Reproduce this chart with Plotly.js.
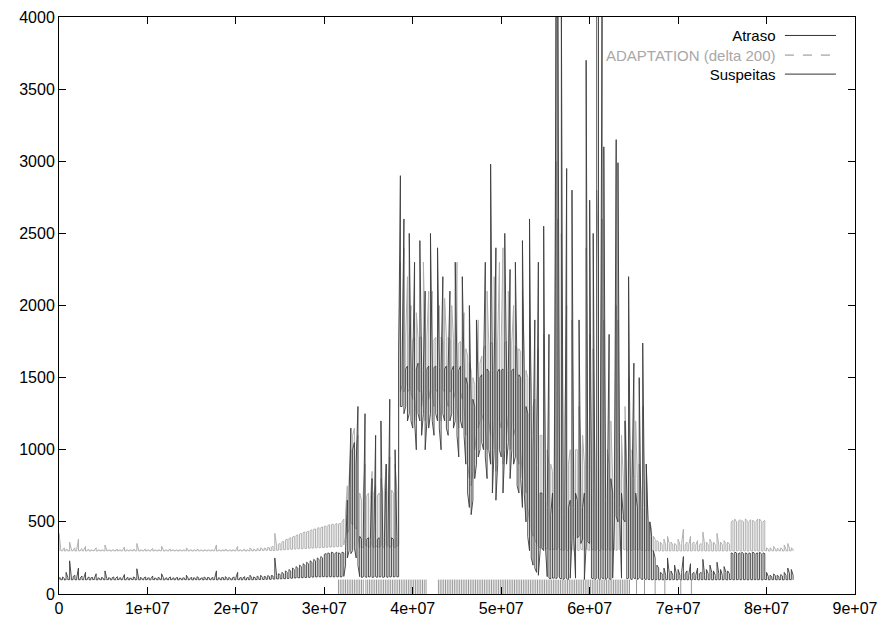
<!DOCTYPE html>
<html>
<head>
<meta charset="utf-8">
<script src="https://cdn.plot.ly/plotly-3.0.1.min.js"></script>
<style>html,body{margin:0;padding:0;background:#fff}#chart{width:885px;height:626px}</style>
</head>
<body>
<div id="chart"></div>
<script>
// Width of one sampling bin along x; each bin keeps the min and max reached inside it
const binWidth = 200000;

// Atraso: per-bin maximum
const atrasoMax = [
  112,110,118,108,150,115,230,112,120,130,
  110,180,112,125,108,150,110,118,112,115,
  110,140,112,108,115,110,160,108,112,110,
  112,118,108,120,110,112,108,135,108,115,
  110,108,118,112,175,110,115,108,112,118,
  110,112,108,125,110,108,115,110,140,112,
  108,112,110,118,108,112,110,115,110,108,
  112,110,130,110,108,115,112,110,120,112,
  108,112,118,110,115,112,108,115,110,160,
  112,110,115,112,120,110,115,108,112,118,
  112,150,110,115,112,120,110,115,130,112,
  118,112,125,115,130,115,122,118,128,120,
  128,125,250,130,140,135,150,140,160,150,
  170,160,180,170,190,180,200,190,210,200,
  220,210,230,220,240,230,250,240,260,250,
  275,280,285,280,290,285,280,290,285,280,
  290,285,300,650,700,1150,1000,1050,900,1300,
  400,380,390,1250,380,390,370,800,380,1100,
  380,390,1200,380,390,900,380,1350,390,380,
  1000,400,1600,2900,1580,2600,1560,1580,2500,1560,
  1580,2300,1560,1600,2450,1580,1550,2100,1560,1580,
  2500,1600,1570,1580,2400,1570,1560,2200,1560,1580,
  1560,2100,1550,1580,2300,1560,1550,1580,2200,1560,
  1500,1450,2000,1300,1350,1300,1900,1450,1500,1520,
  1550,2300,1560,1540,2980,1550,1560,2400,1540,1560,
  1550,1560,2500,1540,1550,2250,1550,1560,2300,1500,
  1520,1500,2450,1450,1300,1250,2600,1100,1000,1900,
  900,2300,700,700,2550,650,600,1800,550,700,
  700,4100,4100,600,4100,550,700,2950,600,650,
  2800,600,700,650,1900,600,600,700,3700,550,
  2730,700,2500,600,4100,4100,700,4100,3100,650,
  700,1800,800,700,650,3150,2990,600,700,550,
  1200,700,2200,700,800,1600,700,600,1500,550,
  1740,600,900,500,500,400,300,250,200,180,
  150,140,180,130,250,140,160,130,200,140,
  170,130,150,260,140,160,130,210,140,150,
  130,180,140,150,240,130,170,140,200,150,
  160,130,220,140,170,130,190,150,160,140,
  285,280,290,285,280,285,290,280,285,280,
  285,280,290,285,280,285,290,280,285,280,
  150,120,130,120,140,125,130,120,135,125,
  150,130,180,140,170,130
];

// Atraso: per-bin minimum
const atrasoMin = [
  100,98,100,97,100,99,100,98,100,99,
  99,100,98,100,99,98,100,99,98,100,
  100,99,98,100,99,100,98,99,100,98,
  99,100,98,99,100,98,100,99,98,100,
  98,100,99,98,100,99,98,100,99,98,
  100,99,98,100,99,100,98,99,100,98,
  99,100,98,99,100,98,100,99,98,100,
  98,100,99,98,100,99,98,100,99,98,
  100,99,98,100,99,100,98,99,100,98,
  99,100,98,99,100,98,100,99,98,100,
  98,100,99,98,100,99,98,100,99,98,
  100,99,100,101,100,102,100,101,103,102,
  102,104,103,105,104,106,105,107,106,108,
  108,110,109,112,111,113,112,114,113,115,
  114,116,115,118,117,119,118,120,119,120,
  120,118,120,119,120,118,120,119,120,118,
  120,122,200,250,300,280,300,320,250,200,
  120,115,118,120,115,118,120,115,118,120,
  115,118,120,115,118,120,115,118,120,118,
  120,118,120,1300,1300,1250,1300,1200,1250,1200,
  1150,1200,1000,1250,1200,1100,1250,1000,1200,1150,
  1250,1200,1100,1250,1200,1150,1000,1250,1200,1150,
  1100,1200,1250,1150,1200,1100,950,1200,1150,1100,
  900,700,600,550,650,800,900,950,1000,1050,
  1000,950,800,1000,900,700,1000,650,900,1000,
  950,700,1000,900,1050,800,1000,900,950,750,
  700,800,600,700,500,400,300,250,200,180,
  150,130,300,320,300,330,120,110,105,110,
  110,105,120,110,105,100,110,105,100,110,
  380,400,110,390,400,350,380,100,340,360,
  350,110,105,100,110,105,100,110,105,100,
  110,105,100,110,520,540,500,530,110,520,
  500,105,110,105,100,110,105,100,110,105,
  100,105,100,102,100,98,100,99,100,98,
  100,98,100,99,100,98,100,99,100,98,
  99,100,98,100,99,98,100,99,98,100,
  100,99,98,100,99,100,98,99,100,98,
  99,100,98,99,100,98,100,99,98,100,
  100,98,100,99,100,98,100,99,100,98,
  99,100,98,100,99,98,100,99,98,100,
  100,99,98,100,99,100,98,99,100,98,
  99,100,98,99,100,98
];

// ADAPTATION (delta 200): per-bin maximum
const adaptMax = [
  420,310,305,320,310,305,360,310,305,320,
  305,380,305,315,305,330,305,308,305,305,
  305,320,305,305,305,305,340,305,305,305,
  305,305,305,310,305,305,305,325,305,305,
  305,305,310,305,350,305,305,305,305,310,
  305,305,305,315,305,305,305,305,330,305,
  305,305,305,310,305,305,305,305,305,305,
  305,305,320,305,305,305,305,305,310,305,
  305,305,305,305,305,305,305,305,305,340,
  305,305,305,305,310,305,305,305,305,305,
  305,330,305,305,305,310,305,305,320,305,
  310,305,315,310,320,312,318,315,322,320,
  325,330,420,335,345,350,360,365,375,380,
  385,390,395,400,405,410,415,420,425,430,
  430,435,440,445,450,450,455,460,460,465,
  470,470,475,480,480,485,480,490,485,490,
  500,520,560,750,800,1000,1100,1150,1000,1100,
  700,650,700,900,680,700,650,850,700,750,
  680,700,800,700,720,900,700,950,720,700,
  900,720,1700,2300,1750,2400,1780,2200,1780,2000,
  1760,1780,1950,1770,1780,1780,2300,1750,1780,2100,
  1770,2100,1760,1780,1770,2000,1780,1750,2050,1780,
  1780,1760,2000,1770,1750,2300,1740,1750,1760,1950,
  1700,1650,1600,1550,1500,1450,1500,1900,1600,1650,
  1700,1720,2100,1720,1740,1740,2200,1720,1740,2300,
  1750,2400,1740,1750,2100,1750,1740,2000,1720,1700,
  1700,1680,2100,1650,1550,1500,1900,1400,1300,1350,
  1200,1700,1100,1100,1800,1000,1000,900,900,850,
  1000,3000,2600,900,2500,900,1200,2000,900,1000,
  1900,900,1000,1000,1300,1000,1100,900,2400,900,
  1800,1000,1700,900,2800,2300,1200,2600,1900,900,
  1000,900,1200,800,900,2000,1900,900,1100,800,
  1300,900,1500,800,1000,800,1200,800,900,700,
  1300,600,900,500,500,450,400,380,370,360,
  360,340,380,340,400,350,360,340,350,340,
  380,340,350,450,340,360,340,400,350,360,
  340,370,340,350,430,340,360,340,380,350,
  360,340,420,340,360,340,370,350,360,345,
  500,510,520,500,505,515,510,500,520,510,
  500,515,510,505,500,520,520,505,500,510,
  320,310,320,310,330,310,315,310,320,310,
  340,310,350,315,320,310
];

// ADAPTATION (delta 200): per-bin minimum
const adaptMin = [
  298,300,299,298,300,299,298,300,299,298,
  299,300,298,300,299,298,300,299,298,300,
  300,299,298,300,299,300,298,299,300,298,
  299,300,298,299,300,298,300,299,298,300,
  298,300,299,298,300,299,298,300,299,298,
  300,299,298,300,299,300,298,299,300,298,
  299,300,298,299,300,298,300,299,298,300,
  298,300,299,298,300,299,298,300,299,298,
  300,299,298,300,299,300,298,299,300,298,
  299,300,298,299,300,298,300,299,298,300,
  298,300,299,298,300,299,298,300,299,298,
  300,299,301,300,302,301,303,302,304,303,
  300,301,302,303,304,305,306,307,308,309,
  310,310,311,312,312,313,314,314,315,316,
  316,317,318,318,319,320,320,321,322,322,
  323,324,324,325,326,326,327,328,328,330,
  330,340,400,420,450,500,480,470,450,400,
  320,330,320,340,330,320,330,340,320,330,
  330,320,340,330,320,340,330,320,340,330,
  320,330,340,1400,1450,1400,1450,1400,1420,1400,
  1350,1400,1200,1420,1400,1300,1420,1200,1400,1350,
  1420,1400,1300,1420,1400,1350,1200,1420,1400,1350,
  1300,1400,1420,1350,1400,1300,1150,1400,1350,1300,
  1100,900,800,750,850,1000,1100,1150,1200,1250,
  1200,1150,1000,1200,1100,900,1200,850,1100,1200,
  1150,900,1200,1100,1250,1000,1200,1100,1150,950,
  900,1000,800,900,700,600,500,450,400,380,
  350,330,320,310,320,310,315,310,305,310,
  310,305,320,310,305,300,310,305,300,310,
  305,300,310,305,300,310,305,300,310,305,
  300,310,305,300,310,305,300,310,305,300,
  310,305,300,310,305,300,310,305,300,310,
  305,300,310,305,300,310,305,300,310,305,
  300,305,300,302,300,298,300,299,300,298,
  300,298,300,299,300,298,300,299,300,298,
  299,300,298,300,299,298,300,299,298,300,
  300,299,298,300,299,300,298,299,300,298,
  299,300,298,299,300,298,300,299,298,300,
  300,298,300,299,300,298,300,299,300,298,
  299,300,298,300,299,298,300,299,298,300,
  300,299,298,300,299,300,298,299,300,298,
  299,300,298,299,300,298
];

// Suspeitas: positions (in millions) where a suspicion was flagged, and its level
const suspeitasAtMillions = [
  31.6,31.8,32.0,32.2,32.4,32.6,32.8,33.0,33.2,33.4,33.6,33.8,34.0,34.2,34.4,34.7,34.9,35.1,35.3,35.5,
  35.7,35.9,36.1,36.3,36.5,36.7,36.9,37.1,37.3,37.5,37.7,37.9,38.1,38.3,38.5,38.7,38.9,39.1,39.3,39.5,
  39.7,39.9,40.1,40.3,40.5,40.7,40.9,41.1,41.3,41.5,
  42.9,43.1,43.3,43.5,43.7,43.9,44.1,44.3,44.5,44.7,44.9,45.1,45.3,45.5,45.7,45.9,46.1,46.3,46.5,46.7,
  46.9,47.1,47.3,47.5,47.7,47.9,48.1,48.3,48.5,48.7,48.9,49.1,49.3,49.5,49.7,49.9,50.1,50.3,50.5,50.7,
  50.9,51.1,51.3,51.5,51.7,51.9,52.1,52.3,52.5,52.7,52.9,53.1,53.3,53.5,53.7,53.9,54.1,54.3,54.5,54.7,
  54.9,55.1,55.3,55.5,55.7,55.9,56.1,56.3,56.5,56.7,56.9,57.1,57.3,57.5,57.7,57.9,58.1,58.3,58.5,58.7,
  58.9,59.1,59.3,59.5,59.7,59.9,60.1,60.3,60.5,60.7,60.9,61.1,61.3,61.5,61.7,61.9,62.1,62.3,62.5,62.7,
  62.9,63.1,63.3,63.5,63.7,63.9,64.1,64.3,64.5,
  65.3,66.2,67.4,68.5,70.3,71.5
];
const suspeitasLevel = 100;

// Axis ticks
const xTickVals = [0,1e7,2e7,3e7,4e7,5e7,6e7,7e7,8e7,9e7];
const xTickText = ['0','1e+07','2e+07','3e+07','4e+07','5e+07','6e+07','7e+07','8e+07','9e+07'];
const yTickVals = [0,500,1000,1500,2000,2500,3000,3500,4000];
const yTickText = ['0','500','1000','1500','2000','2500','3000','3500','4000'];

// Legend labels
const seriesNames = ['Atraso','ADAPTATION (delta 200)','Suspeitas'];

// Build a min/max envelope trace: a vertical stroke per bin, joined alternately at top and bottom
function envelope(mins, maxs) {
  const x = [], y = [];
  for (let i = 0; i < mins.length; i++) {
    const t = i * binWidth;
    if (i % 2 === 0) { x.push(t, t); y.push(mins[i], maxs[i]); }
    else { x.push(t, t); y.push(maxs[i], mins[i]); }
  }
  return {x, y};
}
const envA = envelope(atrasoMin, atrasoMax);
const envB = envelope(adaptMin, adaptMax);
const sx = [], sy = [];
suspeitasAtMillions.forEach(p => { sx.push(p*1e6, p*1e6, null); sy.push(0, suspeitasLevel, null); });

const colors = ['#3a3a3a', '#b0b0b0', '#9a9a9a'];

const traces = [
  {x: envB.x, y: envB.y, type: 'scatter', mode: 'lines', name: seriesNames[1],
   line: {color: colors[1], width: 1}, showlegend: false},
  {x: envA.x, y: envA.y, type: 'scatter', mode: 'lines', name: seriesNames[0],
   line: {color: colors[0], width: 0.9}, showlegend: false},
  {x: sx, y: sy, type: 'scatter', mode: 'lines', name: seriesNames[2],
   line: {color: colors[2], width: 1}, showlegend: false, connectgaps: false}
];

// Gnuplot-style key: right-aligned labels with line samples to their right
const legendText = seriesNames[0] + '<br><span style="color:#a8a8a8">' + seriesNames[1] +
                   '</span><br>' + seriesNames[2];
const annotations = [{
  text: legendText, xref: 'paper', yref: 'paper', x: 0.902, y: 0.985,
  xanchor: 'right', yanchor: 'top', align: 'right', showarrow: false, borderpad: 0,
  font: {family: 'Liberation Sans, Arial, sans-serif', size: 15, color: '#000'}
}];
const legY = [0.968, 0.934, 0.901];
const shapes = seriesNames.map((n, i) => ({
  type: 'line', xref: 'paper', yref: 'paper', x0: 0.912, x1: 0.976, y0: legY[i], y1: legY[i],
  line: {color: i === 1 ? '#8c8c8c' : '#333', width: 1, dash: i === 1 ? 'dash' : 'solid'}
}));

const axisFont = {family: 'Liberation Sans, Arial, sans-serif', size: 16, color: '#000'};

const layout = {
  width: 885, height: 626,
  margin: {l: 59, r: 30, t: 17, b: 32},
  paper_bgcolor: '#fff', plot_bgcolor: '#fff',
  showlegend: false,
  xaxis: {range: [0, 9e7], tickmode: 'array', tickvals: xTickVals, ticktext: xTickText,
          ticks: 'inside', ticklen: 7, tickcolor: '#000', showline: true, linecolor: '#000',
          linewidth: 1, mirror: 'ticks', showgrid: false, zeroline: false, tickfont: axisFont},
  yaxis: {range: [0, 4000], tickmode: 'array', tickvals: yTickVals, ticktext: yTickText,
          ticks: 'inside', ticklen: 7, tickcolor: '#000', showline: true, linecolor: '#000',
          linewidth: 1, mirror: 'ticks', showgrid: false, zeroline: false, tickfont: axisFont},
  annotations: annotations,
  shapes: shapes
};

Plotly.newPlot('chart', traces, layout, {displayModeBar: false, staticPlot: true});
</script>
</body>
</html>
